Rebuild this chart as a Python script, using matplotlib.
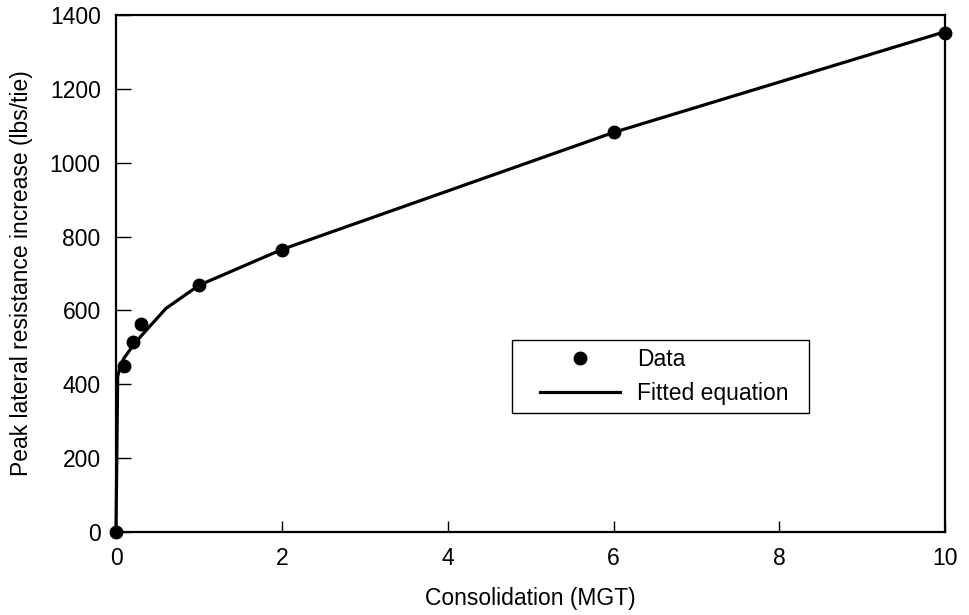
import matplotlib
matplotlib.use("Agg")
import matplotlib.pyplot as plt
from matplotlib.patches import Rectangle

plt.rcParams['font.family'] = ['Liberation Sans', 'DejaVu Sans']

# Measured data
data_x = [0, 0.1, 0.2, 0.3, 1, 2, 6, 10]
data_y = [0, 450, 514, 563, 669, 764, 1083, 1351]

# Fitted equation
fit_x = [0, 0.02, 0.05, 0.1, 0.2, 0.3, 0.6, 1, 2, 6, 10]
fit_y = [0, 420, 450, 472, 503, 530, 605, 668, 765, 1082, 1355]

xticks = [0, 2, 4, 6, 8, 10]
yticks = [0, 200, 400, 600, 800, 1000, 1200, 1400]

FS = 16.5

fig = plt.figure(figsize=(9.7, 6.15), dpi=100)
ax = fig.add_axes([0.1196, 0.135, 0.855, 0.8406])

ax.plot(fit_x, fit_y, color='black', lw=2.3, label='Fitted equation', zorder=2,
        clip_on=False)
ax.plot(data_x, data_y, 'o', color='black', ms=9, label='Data', zorder=3,
        clip_on=False)

ax.set_xlim(0, 10)
ax.set_ylim(0, 1400)
ax.set_xticks(xticks)
ax.set_yticks(yticks)
ax.tick_params(direction='in', length=11, width=1, labelsize=FS,
               top=False, right=False, pad=11)
ax.tick_params(axis='x', length=8, pad=11)
for s in ax.spines.values():
    s.set_linewidth(1.6)

ax.set_xlabel('Consolidation (MGT)', fontsize=FS, labelpad=12)
ax.set_ylabel('Peak lateral resistance increase (lbs/tie)', fontsize=FS, labelpad=12)

# legend box
ax.add_patch(Rectangle((0.478, 0.23), 0.357, 0.141, transform=ax.transAxes,
                       fill=True, facecolor='white', edgecolor='black', lw=1.0,
                       zorder=4))
handles, labels = ax.get_legend_handles_labels()
leg = ax.legend(handles[::-1], labels[::-1], loc='center left',
                bbox_to_anchor=(0.511, 0.301), borderaxespad=0, borderpad=0,
                frameon=False, fontsize=FS, handlelength=3.5, handletextpad=0.75,
                labelspacing=0.5)
leg.set_zorder(5)

fig.savefig('out.png', dpi=100)
